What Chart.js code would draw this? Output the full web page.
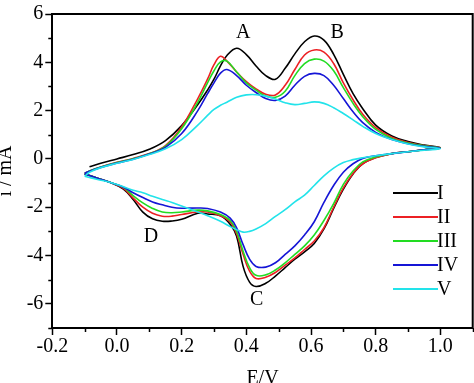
<!DOCTYPE html>
<html>
<head>
<meta charset="utf-8">
<script src="https://cdn.jsdelivr.net/npm/chart.js@4.4.1/dist/chart.umd.min.js"></script>
<style>
  html, body { margin: 0; padding: 0; background: #fff; }
  #wrap { width: 474px; height: 383px; }
</style>
</head>
<body>
<div id="wrap"><canvas id="c" width="474" height="383"></canvas></div>
<script>
// ---- data (E / V and i / mA) ----
const seriesNames = ['I', 'II', 'III', 'IV', 'V'];
const seriesColors = ['#000000', '#ec2024', '#22dc22', '#1515d6', '#22e3ea'];

// forward (anodic) sweep potentials
const forwardE = [-0.1, -0.085, -0.05, 0.0, 0.05, 0.1, 0.15, 0.2, 0.25, 0.28, 0.3, 0.32, 0.34, 0.37, 0.4, 0.43, 0.46, 0.49, 0.52, 0.55, 0.58, 0.61, 0.64, 0.67, 0.7, 0.73, 0.76, 0.8, 0.85, 0.9, 0.95, 1.0];
// reverse (cathodic) sweep potentials (continuing from 1.0 V)
const reverseE = [0.95, 0.9, 0.85, 0.8, 0.76, 0.73, 0.7, 0.67, 0.64, 0.61, 0.58, 0.55, 0.52, 0.49, 0.46, 0.43, 0.41, 0.39, 0.37, 0.35, 0.32, 0.28, 0.25, 0.2, 0.17, 0.14, 0.11, 0.08, 0.05, 0.02, -0.02, -0.06, -0.1];

const forwardI   = [null, -0.32, -0.18, 0.0, 0.18, 0.4, 0.76, 1.38, 2.25, 2.85, 3.3, 3.85, 4.28, 4.58, 4.32, 3.85, 3.45, 3.3, 3.75, 4.35, 4.85, 5.09, 4.92, 4.33, 3.5, 2.7, 2.08, 1.4, 0.95, 0.72, 0.57, 0.46];
const forwardII  = [-0.6, -0.5, -0.33, -0.14, 0.02, 0.22, 0.55, 1.32, 2.5, 3.3, 3.9, 4.25, 4.05, 3.6, 3.2, 2.9, 2.68, 2.65, 3.05, 3.7, 4.3, 4.51, 4.42, 3.95, 3.15, 2.45, 1.85, 1.3, 0.9, 0.68, 0.55, 0.46];
const forwardIII = [-0.6, -0.5, -0.34, -0.15, 0.01, 0.21, 0.52, 1.25, 2.35, 3.15, 3.65, 4.02, 4.05, 3.6, 3.15, 2.85, 2.6, 2.55, 2.8, 3.45, 3.95, 4.13, 4.05, 3.65, 2.95, 2.3, 1.75, 1.22, 0.85, 0.66, 0.54, 0.45];
const forwardIV  = [-0.6, -0.51, -0.35, -0.17, -0.01, 0.2, 0.48, 1.05, 2.0, 2.7, 3.15, 3.55, 3.7, 3.45, 3.05, 2.75, 2.5, 2.42, 2.6, 3.05, 3.42, 3.54, 3.45, 3.05, 2.5, 1.95, 1.5, 1.1, 0.8, 0.63, 0.52, 0.44];
const forwardV   = [-0.72, -0.55, -0.36, -0.18, -0.02, 0.18, 0.42, 0.8, 1.4, 1.8, 2.05, 2.22, 2.35, 2.55, 2.65, 2.66, 2.6, 2.48, 2.33, 2.25, 2.3, 2.36, 2.3, 2.12, 1.88, 1.62, 1.35, 1.05, 0.8, 0.62, 0.5, 0.42];

const reverseI   = [0.38, 0.3, 0.22, 0.06, -0.2, -0.62, -1.25, -2.05, -2.9, -3.5, -3.85, -4.15, -4.5, -4.85, -5.15, -5.28, -5.1, -4.45, -3.2, -2.7, -2.35, -2.28, -2.25, -2.5, -2.57, -2.58, -2.48, -2.2, -1.68, -1.25, -0.98, -0.8, -0.62];
const reverseII  = [0.38, 0.3, 0.22, 0.05, -0.2, -0.6, -1.2, -2.0, -2.85, -3.4, -3.75, -4.1, -4.4, -4.7, -4.9, -4.95, -4.65, -3.95, -3.1, -2.6, -2.35, -2.2, -2.2, -2.3, -2.37, -2.37, -2.25, -2.0, -1.62, -1.22, -0.98, -0.8, -0.62];
const reverseIII = [0.38, 0.3, 0.22, 0.08, -0.12, -0.5, -1.05, -1.85, -2.55, -3.15, -3.6, -3.95, -4.3, -4.6, -4.8, -4.82, -4.5, -3.82, -3.0, -2.55, -2.3, -2.15, -2.12, -2.2, -2.23, -2.2, -2.05, -1.82, -1.52, -1.18, -0.98, -0.8, -0.62];
const reverseIV  = [0.38, 0.3, 0.22, 0.13, 0.02, -0.2, -0.55, -1.1, -1.8, -2.6, -3.15, -3.6, -3.95, -4.3, -4.48, -4.45, -4.15, -3.55, -2.85, -2.45, -2.2, -2.05, -2.03, -2.04, -2.0, -1.9, -1.78, -1.6, -1.4, -1.17, -0.98, -0.8, -0.62];
const reverseV   = [0.36, 0.3, 0.22, 0.13, 0.05, -0.03, -0.15, -0.38, -0.7, -1.1, -1.5, -1.78, -2.1, -2.38, -2.68, -2.9, -3.0, -3.03, -2.93, -2.8, -2.58, -2.35, -2.2, -1.95, -1.8, -1.68, -1.55, -1.4, -1.3, -1.15, -0.98, -0.85, -0.72];

const forwardSets = [forwardI, forwardII, forwardIII, forwardIV, forwardV];
const reverseSets = [reverseI, reverseII, reverseIII, reverseIV, reverseV];

// peak letters and where they sit (E, i)
const peakLetters = ['A', 'B', 'C', 'D'];
const peakE = [0.39, 0.681, 0.432, 0.105];
const peakI = [5.22, 5.22, -5.84, -3.21];

// axis ticks
const xMin = -0.2, xMax = 1.1, xStep = 0.2;
const yMin = -7, yMax = 6, yStep = 2;
const xMinor = [-0.1, 0.1, 0.3, 0.5, 0.7, 0.9, 1.1];
const yMinor = [-7, -5, -3, -1, 1, 3, 5];

// ---- chart ----
const FONT = 'Liberation Serif, Times New Roman, serif';

const datasets = seriesNames.map((name, s) => ({
  label: name,
  data: forwardE.map((e, i) => ({ x: e, y: forwardSets[s][i] }))
        .concat(reverseE.map((e, i) => ({ x: e, y: reverseSets[s][i] }))),
  borderColor: seriesColors[s],
  backgroundColor: seriesColors[s],
  borderWidth: 1.6,
  showLine: true,
  pointRadius: 0,
  tension: 0.4,
  spanGaps: false,
  order: [4, 3, 2, 1, 0][s]
}));

const decor = {
  id: 'decor',
  afterDraw(chart) {
    const ctx = chart.ctx;
    const a = chart.chartArea;
    const xs = chart.scales.x, ys = chart.scales.y;
    ctx.save();
    // frame top + right
    ctx.strokeStyle = '#000';
    ctx.lineWidth = 2;
    ctx.beginPath();
    ctx.moveTo(a.left, a.top);
    ctx.lineTo(a.right, a.top);
    ctx.lineTo(a.right, a.bottom);
    ctx.stroke();
    // minor ticks
    ctx.lineWidth = 1.5;
    ctx.beginPath();
    xMinor.forEach(v => {
      const px = Math.round(xs.getPixelForValue(v)) + 0.5;
      ctx.moveTo(px, a.bottom);
      ctx.lineTo(px, a.bottom + 4);
    });
    yMinor.forEach(v => {
      const py = Math.round(ys.getPixelForValue(v)) + 0.5;
      ctx.moveTo(a.left, py);
      ctx.lineTo(a.left - 4, py);
    });
    ctx.stroke();
    // peak letters
    ctx.fillStyle = '#000';
    ctx.font = '20px ' + FONT;
    ctx.textAlign = 'center';
    ctx.textBaseline = 'middle';
    peakLetters.forEach((t, i) => {
      ctx.fillText(t, xs.getPixelForValue(peakE[i]), ys.getPixelForValue(peakI[i]));
    });
    // legend
    ctx.textAlign = 'left';
    chart.data.datasets.forEach((ds, i) => {
      const y = 193 + i * 24;
      ctx.strokeStyle = ds.borderColor;
      ctx.lineWidth = 2;
      ctx.beginPath();
      ctx.moveTo(393, y);
      ctx.lineTo(438, y);
      ctx.stroke();
      ctx.fillText(ds.label, 437, y + 1);
    });
    ctx.restore();
  }
};

new Chart(document.getElementById('c'), {
  type: 'scatter',
  data: { datasets },
  plugins: [decor],
  options: {
    responsive: false,
    animation: false,
    layout: { padding: { top: 7, right: 1.3, left: 0, bottom: 0 } },
    plugins: { legend: { display: false }, tooltip: { enabled: false } },
    scales: {
      x: {
        type: 'linear',
        min: xMin, max: xMax,
        afterFit(scale) { scale.height = 55; },
        border: { display: true, color: '#000', width: 2 },
        grid: { drawOnChartArea: false, drawTicks: true, tickLength: 7, tickColor: '#000', tickWidth: 1.5 },
        ticks: {
          stepSize: xStep, includeBounds: false, maxRotation: 0, autoSkip: false,
          color: '#000', padding: 0,
          font: { family: FONT, size: 20 },
          callback: v => Number(v).toFixed(1)
        },
        title: { display: true, text: 'E/V', color: '#000', padding: 0,
                 font: { family: FONT, size: 20, lineHeight: 0.4 } }
      },
      y: {
        type: 'linear',
        min: yMin, max: yMax,
        afterFit(scale) { scale.width = 52.3; },
        border: { display: true, color: '#000', width: 2 },
        grid: { drawOnChartArea: false, drawTicks: true, tickLength: 7, tickColor: '#000', tickWidth: 1.5 },
        ticks: {
          stepSize: yStep, includeBounds: false, autoSkip: false,
          color: '#000', padding: 2,
          font: { family: FONT, size: 20 },
          callback: v => String(v)
        },
        title: { display: true, text: 'i / mA', color: '#000', padding: 0,
                 font: { family: FONT, size: 20, lineHeight: 0.55 } }
      }
    }
  }
});
</script>
</body>
</html>
